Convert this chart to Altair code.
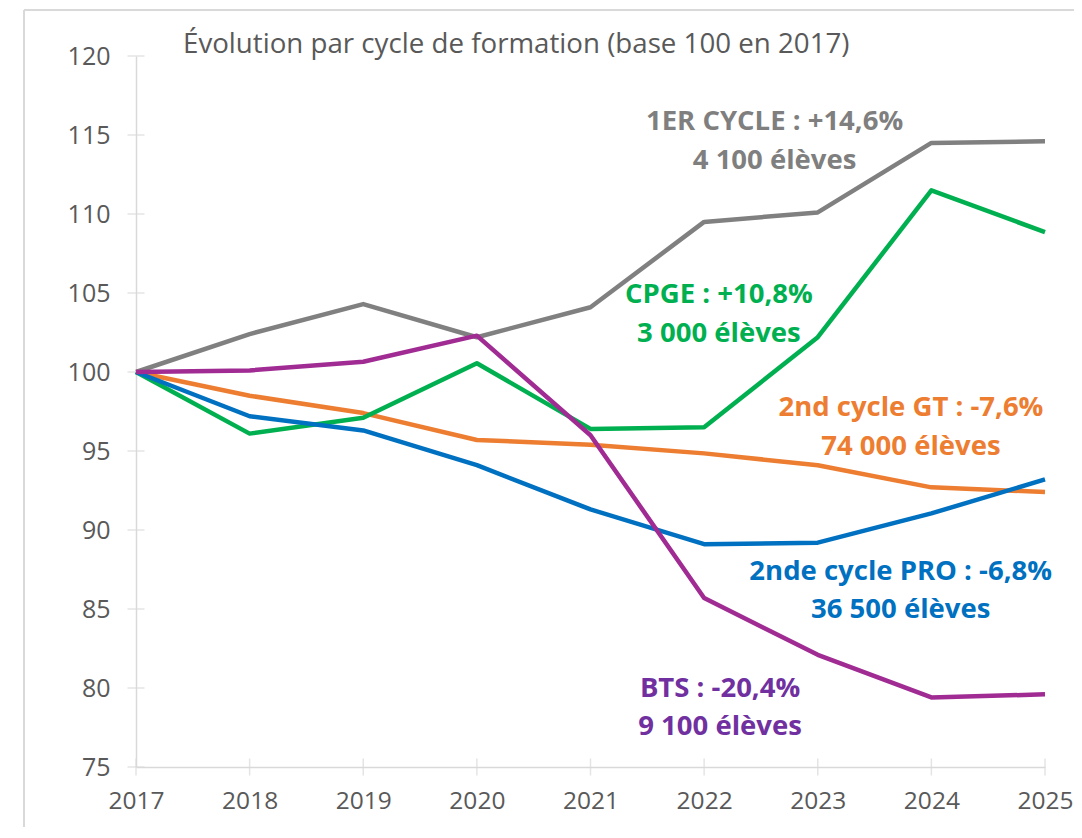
import altair as alt
import pandas as pd

years = [2017, 2018, 2019, 2020, 2021, 2022, 2023, 2024, 2025]

series_names = ["1ER CYCLE", "2nd cycle GT", "CPGE", "2nde cycle PRO", "BTS"]
premier_cycle = [100, 102.4, 104.3, 102.2, 104.1, 109.5, 110.1, 114.5, 114.6]
second_gt = [100, 98.5, 97.4, 95.7, 95.4, 94.85, 94.1, 92.7, 92.4]
cpge = [100, 96.1, 97.1, 100.55, 96.4, 96.5, 102.2, 111.5, 108.85]
second_pro = [100, 97.2, 96.3, 94.1, 91.3, 89.1, 89.2, 91.05, 93.2]
bts = [100, 100.1, 100.65, 102.3, 96.0, 85.7, 82.1, 79.4, 79.6]

line_colors = ["#808080", "#ED7D31", "#00B050", "#0070C0", "#A02B93"]

# annotation text lines
label_line1 = ["1ER CYCLE : +14,6%", "2nd cycle GT : -7,6%", "CPGE : +10,8%",
               "2nde cycle PRO : -6,8%", "BTS : -20,4%"]
label_line2 = ["4 100 élèves", "74 000 élèves", "3 000 élèves",
               "36 500 élèves", "9 100 élèves"]
label_colors = ["#7F7F7F", "#ED7D31", "#00B050", "#0070C0", "#7030A0"]
# annotation anchors (data space): x year, y of first line, y of second line
label_x = [2022.62, 2023.82, 2022.13, 2023.73, 2022.14]
label_y1 = [115.8, 97.7, 104.85, 87.35, 79.95]
label_y2 = [113.35, 95.25, 102.4, 84.95, 77.55]

y_ticks = [75, 80, 85, 90, 95, 100, 105, 110, 115, 120]
title_text = "Évolution par cycle de formation (base 100 en 2017)"

W, H = 909, 711
axis_color = "#D9D9D9"
FONT = "Open Sans"

all_series = [premier_cycle, second_gt, cpge, second_pro, bts]
rows = []
for name, vals in zip(series_names, all_series):
    for yr, v in zip(years, vals):
        rows.append({"serie": name, "annee": yr, "valeur": v})
df = pd.DataFrame(rows)

lab_rows = []
for i in range(len(series_names)):
    lab_rows.append({"txt": label_line1[i], "x": label_x[i], "y": label_y1[i], "c": label_colors[i]})
    lab_rows.append({"txt": label_line2[i], "x": label_x[i], "y": label_y2[i], "c": label_colors[i]})
df_lab = pd.DataFrame(lab_rows)

x_scale = alt.Scale(domain=[2017, 2025], nice=False)
y_scale = alt.Scale(domain=[75, 120], nice=False, zero=False)

lines = alt.Chart(df).mark_line(strokeWidth=4.5, strokeJoin="round").encode(
    x=alt.X("annee:Q", scale=x_scale,
            axis=alt.Axis(values=years, format="d", title=None, grid=False, ticks=False,
                          domainColor=axis_color, domainWidth=1.5,
                          labelFont=FONT, labelFontSize=24.5, labelFlush=False,
                          labelOverlap=False, labelBound=False,
                          labelColor="#595959", labelPadding=22)),
    y=alt.Y("valeur:Q", scale=y_scale,
            axis=alt.Axis(values=y_ticks, title=None, grid=False, ticks=False,
                          domainColor=axis_color, domainWidth=1.5,
                          labelFont=FONT, labelFontSize=25, labelFlush=False,
                          labelOverlap=False,
                          labelColor="#595959", labelPadding=26)),
    color=alt.Color("serie:N", scale=alt.Scale(domain=series_names, range=line_colors), legend=None),
    order=alt.Order("annee:Q"),
)

ytick_df = pd.DataFrame({"v": y_ticks})
yticks = alt.Chart(ytick_df).mark_tick(size=17, thickness=1.5, color=axis_color).encode(
    y=alt.Y("v:Q", scale=y_scale), x=alt.value(0)
)
xtick_df = pd.DataFrame({"yr": years})
xticks = alt.Chart(xtick_df).mark_tick(size=17, thickness=1.5, color=axis_color).encode(
    x=alt.X("yr:Q", scale=x_scale), y=alt.value(H)
)

labels = alt.Chart(df_lab).mark_text(font=FONT, fontWeight="bold", fontSize=27.5,
                                      align="center", baseline="middle").encode(
    x=alt.X("x:Q", scale=x_scale),
    y=alt.Y("y:Q", scale=y_scale),
    text="txt:N",
    color=alt.Color("c:N", scale=None),
)

title = alt.Chart(pd.DataFrame({"t": [title_text]})).mark_text(
    font=FONT, fontSize=27.7, color="#595959", align="left", baseline="middle"
).encode(x=alt.value(47), y=alt.value(-11), text="t:N")

frame_v = alt.Chart(pd.DataFrame({"k": [0]})).mark_rule(color=axis_color, strokeWidth=2).encode(
    x=alt.value(-112), y=alt.value(-46), y2=alt.value(800)
)
frame_h = alt.Chart(pd.DataFrame({"k": [0]})).mark_rule(color=axis_color, strokeWidth=2).encode(
    x=alt.value(-112), x2=alt.value(960), y=alt.value(-46)
)

chart = alt.layer(frame_v, frame_h, yticks, xticks, lines, labels, title).properties(
    width=W, height=H,
    autosize=alt.AutoSizeParams(type="none"),
    padding={"left": 128, "top": 48, "right": 29, "bottom": 60},
    background="white",
).configure_view(stroke=None)

chart.save("out.html", embed_options={"renderer": "svg", "actions": False})
